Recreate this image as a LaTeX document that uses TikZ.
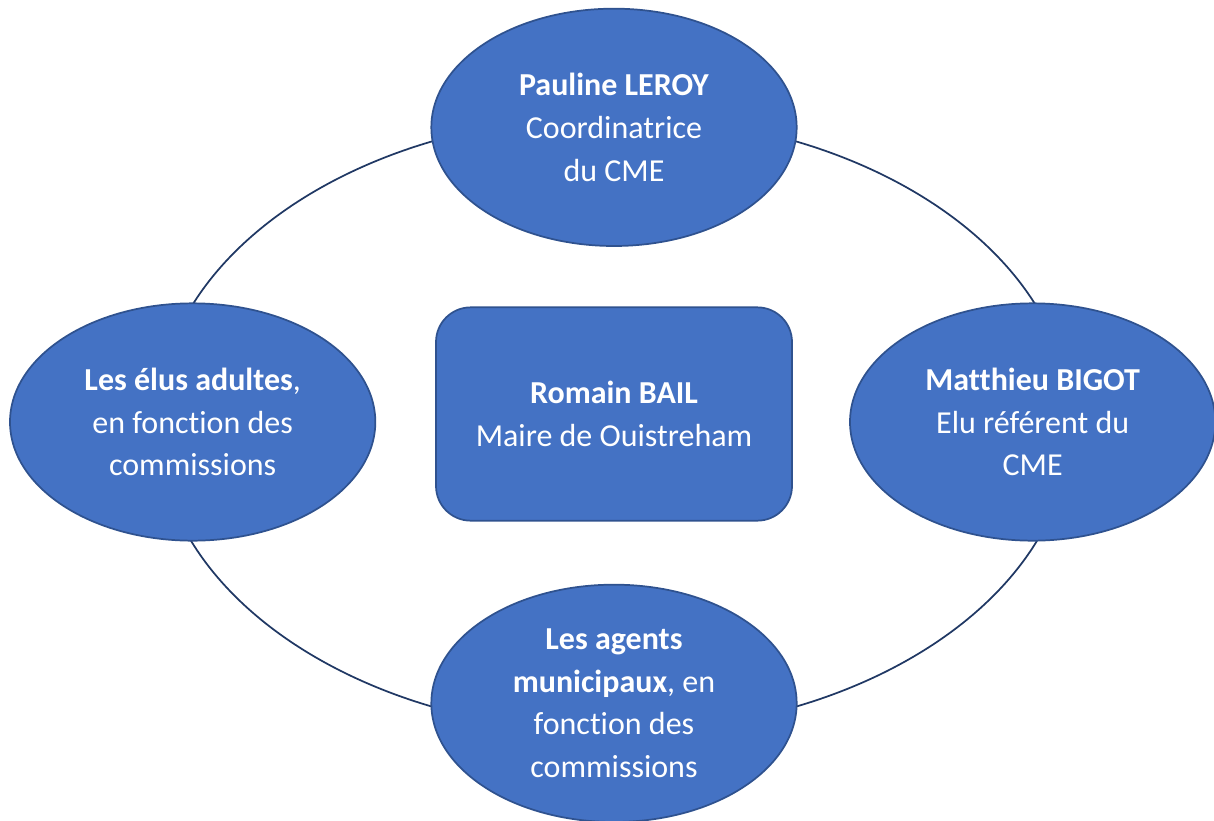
\documentclass[tikz,border=0pt]{standalone}
\usepackage{fontspec}
\setmainfont{Carlito}[Ligatures=NoCommon]
\usetikzlibrary{shapes.geometric}
\definecolor{cmeblue}{HTML}{4472C4}
\definecolor{cmeedge}{HTML}{2F528F}
\definecolor{cmering}{HTML}{203864}
\tikzstyle{member} = [ellipse, minimum width=274pt, minimum height=178pt, inner sep=0pt, fill=cmeblue, draw=cmeedge, line width=1.3pt, text=white, align=center, font=\fontsize{24}{32}\selectfont]
\tikzstyle{boss} = [rectangle, rounded corners=26pt, minimum width=267pt, minimum height=160pt, inner sep=0pt, fill=cmeblue, draw=cmeedge, line width=1.3pt, text=white, align=center, font=\fontsize{24}{32}\selectfont]
\tikzstyle{ring} = [draw=cmering, line width=1.3pt]

\begin{document}
\begin{tikzpicture}[x=0.75pt, y=-0.75pt]
		\useasboundingbox (0,0) rectangle (1214,821);
		\coordinate (hub) at (614,424);
		\draw [ring] (hub) ellipse (457 and 308);
		\node (mayor) [boss] at (614,414) {\textbf{Romain BAIL}\\Maire de Ouistreham};
		\node (leroy) [member, above of=mayor, node distance=215pt] {\textbf{Pauline LEROY}\\Coordinatrice\\du CME};
		\node (elus) [member, left of=mayor, node distance=316pt, yshift=-6pt] {\textbf{Les élus adultes},\\en fonction des\\commissions};
		\node (bigot) [member, right of=mayor, node distance=314pt, yshift=-6pt] {\textbf{Matthieu BIGOT}\\Elu référent du\\CME};
		\node (agents) [member, below of=mayor, node distance=217pt] {\textbf{Les agents}\\\textbf{municipaux}, en\\fonction des\\commissions};
\end{tikzpicture}
\end{document}
